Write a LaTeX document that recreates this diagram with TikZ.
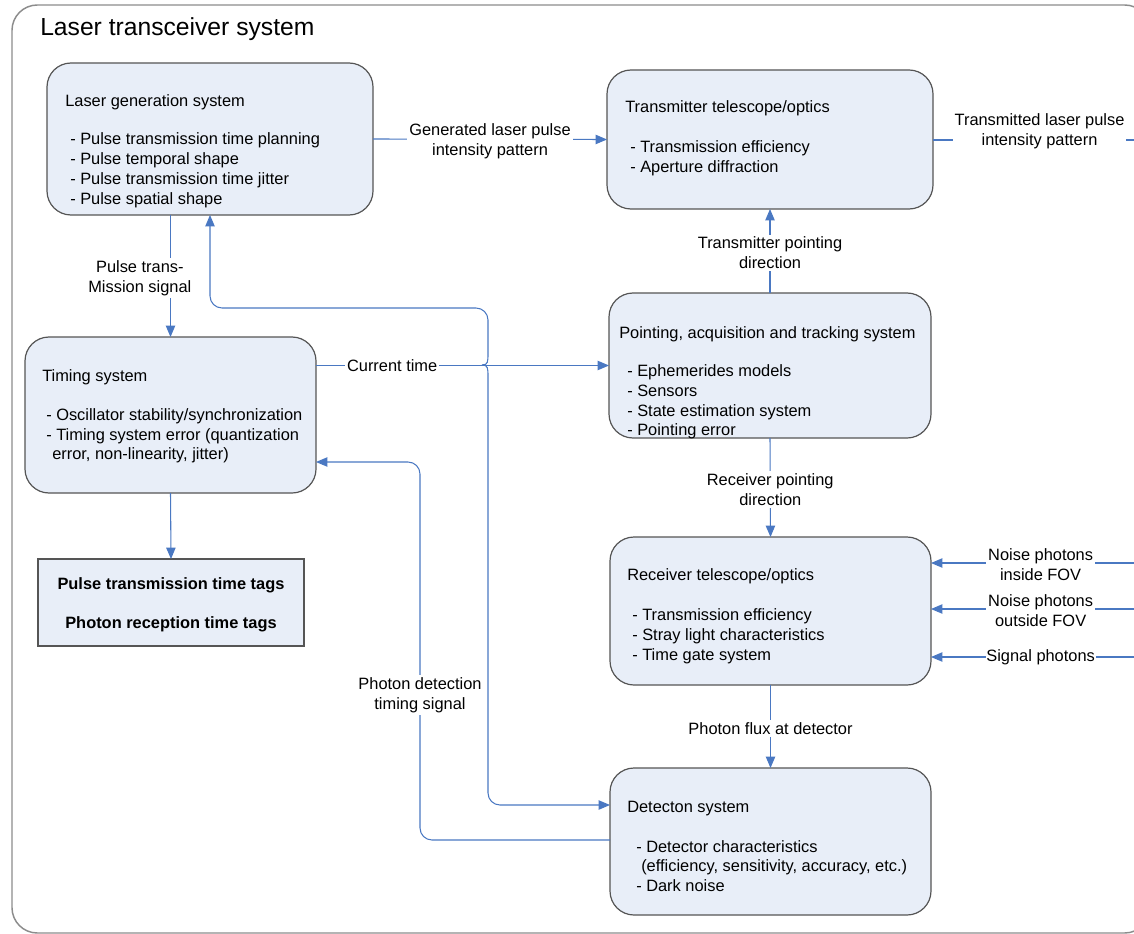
\documentclass[tikz,border=0pt]{standalone}
\usepackage{fontspec}
\setmainfont{Liberation Sans}
\usetikzlibrary{arrows.meta,calc}
\definecolor{boxfill}{HTML}{E8EEF8}
\definecolor{boxline}{HTML}{555555}
\definecolor{conncol}{HTML}{4A78C2}
\definecolor{framecol}{HTML}{8C8C8C}
\begin{document}
\begin{tikzpicture}[x=0.75pt,y=-0.75pt,
  sys/.style={draw=boxline,fill=boxfill,line width=0.9pt,rounded corners=18pt,anchor=north west,inner sep=0pt,outer sep=0pt},
  tagbox/.style={draw=boxline,fill=boxfill,line width=0.9pt,anchor=north west,inner sep=0pt,outer sep=0pt},
  txt/.style={anchor=base west,inner sep=0pt,font=\fontsize{12.3}{15}\selectfont},
  lbl/.style={fill=white,inner sep=1.5pt,align=center,yshift=-1.5pt,font=\fontsize{12.3}{15}\selectfont},
  conn/.style={draw=conncol,line width=0.8pt},
  arr/.style={conn,-{Triangle[length=8.5pt,width=7pt]}},
  rarr/.style={conn,{Triangle[length=8.5pt,width=7pt]}-}]
\useasboundingbox (0,0) rectangle (1134,934);
\begin{scope}
\clip (0,0) rectangle (1134,934);
\draw[framecol,line width=1.1pt,rounded corners=19pt] (12,5) rectangle (1150,933);
\end{scope}
\node[anchor=base west,inner sep=0pt,font=\fontsize{18.5}{22}\selectfont] (title) at (40,36) {Laser transceiver system};

% boxes
\node[sys,minimum width=244.5pt,minimum height=114pt] (lg) at (47,63) {};
\node[sys,minimum width=244.5pt,minimum height=104.25pt] (tt) at (607,70) {};
\node[sys,minimum width=218.25pt,minimum height=117pt] (tm) at (25,337) {};
\node[sys,minimum width=241.5pt,minimum height=108.75pt] (pat) at (609,293) {};
\node[sys,minimum width=240.75pt,minimum height=111pt] (rec) at (610,537) {};
\node[sys,minimum width=240.75pt,minimum height=110.25pt] (det) at (610,768) {};
\node[tagbox,minimum width=199.5pt,minimum height=65.25pt] (tags) at (38,559) {};

% box texts
\node[txt] (lg0) at (65,107) {Laser generation system};
\node[txt] (lg1) at (70,145) {- Pulse transmission time planning};
\node[txt] (lg2) at (70,165) {- Pulse temporal shape};
\node[txt] (lg3) at (70,185) {- Pulse transmission time jitter};
\node[txt] (lg4) at (70,205) {- Pulse spatial shape};

\node[txt] (tt0) at (625,113) {Transmitter telescope/optics};
\node[txt] (tt1) at (630,153) {- Transmission efficiency};
\node[txt] (tt2) at (630,173) {- Aperture diffraction};

\node[txt] (tm0) at (42,381) {Timing system};
\node[txt] (tm1) at (46,420) {- Oscillator stability/synchronization};
\node[txt] (tm2) at (46,440) {- Timing system error (quantization};
\node[txt] (tm3) at (52,459) {error, non-linearity, jitter)};

\node[txt] (pat0) at (619,338) {Pointing, acquisition and tracking system};
\node[txt] (pat1) at (627,376) {- Ephemerides models};
\node[txt] (pat2) at (627,396) {- Sensors};
\node[txt] (pat3) at (627,416) {- State estimation system};
\node[txt] (pat4) at (627,435) {- Pointing error};

\node[txt] (rec0) at (627,580) {Receiver telescope/optics};
\node[txt] (rec1) at (632,620) {- Transmission efficiency};
\node[txt] (rec2) at (632,640) {- Stray light characteristics};
\node[txt] (rec3) at (632,660) {- Time gate system};

\node[txt] (det0) at (627,812) {Detecton system};
\node[txt] (det1) at (636,852) {- Detector characteristics};
\node[txt] (det2) at (641,871) {(efficiency, sensitivity, accuracy, etc.)};
\node[txt] (det3) at (636,891) {- Dark noise};

\node[txt,font=\bfseries\fontsize{12.3}{15}\selectfont,anchor=base] (tag1) at (171,589) {Pulse transmission time tags};
\node[txt,font=\bfseries\fontsize{12.3}{15}\selectfont,anchor=base] (tag2) at (171,628) {Photon reception time tags};

% coordinates
\coordinate (j) at (482,365);
\coordinate (upc) at (488,308);
\coordinate (dnc) at (488,805);
\coordinate (pdc) at (420,840);
\coordinate (pdt) at (420,462);
\coordinate (tin) at (316,462);
\coordinate (txe) at (1134,140);
\coordinate (n1) at (1134,563);
\coordinate (n2) at (1134,609);
\coordinate (n3) at (1134,657);

% connectors
\draw[arr] (lg.east) -- node[lbl] (l1) {Generated laser pulse\\intensity pattern} (tt.west);
\draw[conn] (tt.east |- txe) -- node[lbl,pos=0.53,yshift=8pt] (l2) {Transmitted laser pulse\\intensity pattern} (txe);
\draw[arr] (pat.north) -- node[lbl] (l3) {Transmitter pointing\\direction} (tt.south);
\draw[arr] (pat.south) -- node[lbl] (l4) {Receiver pointing\\direction} (rec.north);
\draw[arr] (rec.south) -- node[lbl] (l5) {Photon flux at detector} (det.north);
\draw[arr] (lg.south -| tm.north) -- node[lbl,xshift=-23pt,pos=0.5] (l6) {Pulse trans-\\Mission signal} (tm.north);
\draw[arr] (tm.south) -- (tags.north);
\draw[arr] (tm.east |- pat.west) -- node[lbl,pos=0.26,yshift=1.5pt] (l7) {Current time} (pat.west);
\draw[arr] (j) .. controls (488,365) and (488,362) .. (488,353) [rounded corners=9pt] -- (upc) -- (lg.south |- upc) -- (lg.south);
\draw[arr] (j) .. controls (488,365) and (488,368) .. (488,377) [rounded corners=9pt] -- (dnc) -- (det.west |- dnc);
\draw[arr,rounded corners=9pt] (det.west |- pdc) -- (pdc) -- (pdt) -- (tin);
\node[lbl] (l8) at (420,693) {Photon detection\\timing signal};
\draw[rarr] (rec.east |- n1) -- node[lbl,pos=0.54] (l9) {Noise photons\\inside FOV} (n1);
\draw[rarr] (rec.east |- n2) -- node[lbl,pos=0.54] (l10) {Noise photons\\outside FOV} (n2);
\draw[rarr] (rec.east |- n3) -- node[lbl,pos=0.54,inner sep=0.5pt,yshift=1.5pt] (l11) {Signal photons} (n3);
\end{tikzpicture}
\end{document}
